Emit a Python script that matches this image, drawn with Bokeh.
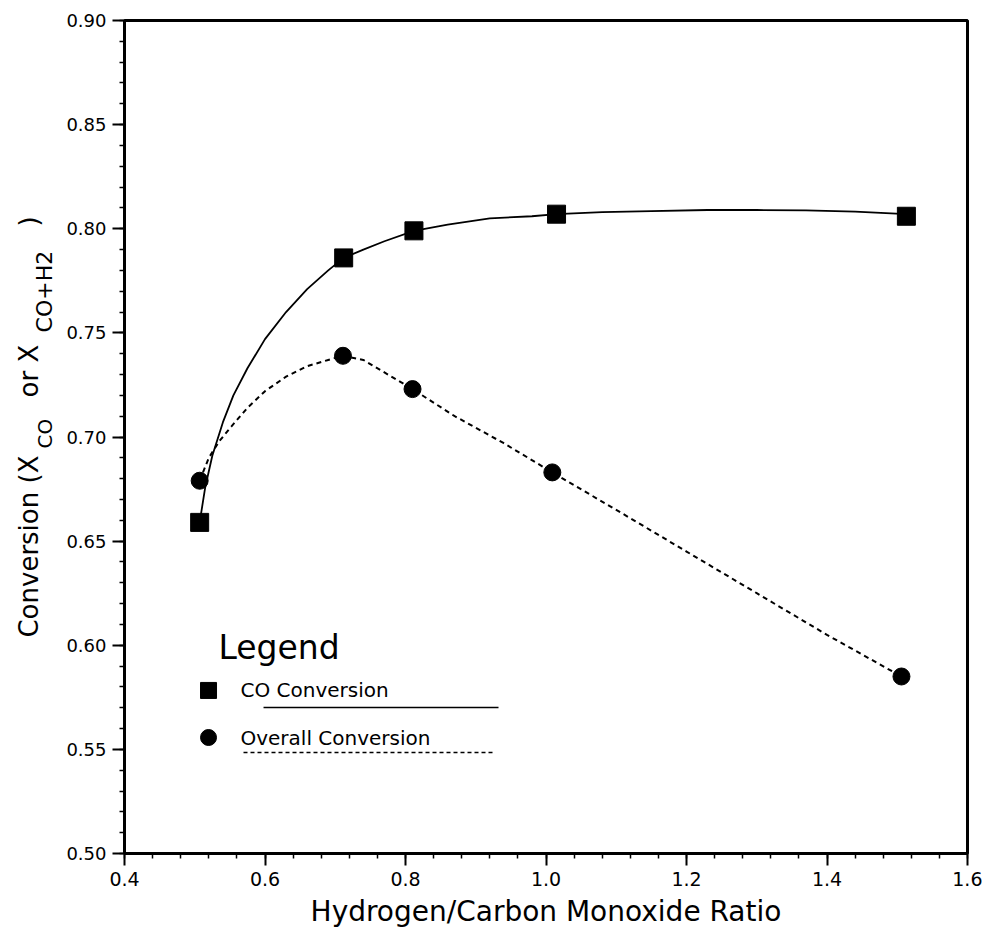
import math
from bokeh.plotting import figure
from bokeh.layouts import row
from bokeh.models import Label, Range1d, SingleIntervalTicker, PrintfTickFormatter
from bokeh.core.properties import value
from bokeh.embed import file_html
from bokeh.resources import INLINE

# Measured points: H2/CO ratio vs conversion
co_x = [0.507, 0.712, 0.812, 1.015, 1.513]
co_y = [0.659, 0.786, 0.799, 0.807, 0.806]
overall_x = [0.507, 0.711, 0.810, 1.009, 1.506]
overall_y = [0.679, 0.739, 0.723, 0.683, 0.585]

# Hand-drawn fitted curves through the points
co_curve_x = [0.507, 0.515, 0.525, 0.540, 0.555, 0.575, 0.600, 0.630, 0.660, 0.690,
              0.712, 0.740, 0.770, 0.812, 0.860, 0.920, 0.980, 1.015, 1.080, 1.150,
              1.230, 1.300, 1.370, 1.440, 1.513]
co_curve_y = [0.659, 0.676, 0.691, 0.707, 0.720, 0.733, 0.747, 0.760, 0.771, 0.780,
              0.786, 0.790, 0.794, 0.799, 0.802, 0.805, 0.806, 0.807, 0.808, 0.8085,
              0.809, 0.809, 0.8088, 0.8082, 0.807]
overall_curve_x = [0.507, 0.520, 0.535, 0.552, 0.575, 0.600, 0.630, 0.660, 0.690, 0.711,
                   0.740, 0.770, 0.810, 0.870, 0.940, 1.009, 1.100, 1.200, 1.300, 1.400,
                   1.506]
overall_curve_y = [0.679, 0.690, 0.698, 0.705, 0.714, 0.722, 0.729, 0.734, 0.737, 0.739,
                   0.737, 0.731, 0.723, 0.710, 0.697, 0.683, 0.665, 0.645, 0.625, 0.605,
                   0.585]

x_title = "Hydrogen/Carbon Monoxide Ratio"
legend_title = "Legend"
series_names = ["CO Conversion", "Overall Conversion"]

FONT = "DejaVu Sans"
LABEL_STRIP = 60          # width of the strip that carries the vertical title
TOTAL_W, TOTAL_H = 982, 941
TOP, BOTTOM = 20, 88

p = figure(width=TOTAL_W - LABEL_STRIP, height=TOTAL_H,
           x_range=Range1d(0.4, 1.6), y_range=Range1d(0.5, 0.9),
           output_backend="svg", toolbar_location=None,
           min_border_left=124 - LABEL_STRIP, min_border_right=15,
           min_border_top=TOP, min_border_bottom=BOTTOM)

p.background_fill_color = "white"
p.border_fill_color = "white"
p.outline_line_color = "black"
p.outline_line_width = 3
p.xgrid.visible = False
p.ygrid.visible = False

p.xaxis.ticker = SingleIntervalTicker(interval=0.2, num_minor_ticks=5)
p.yaxis.ticker = SingleIntervalTicker(interval=0.05, num_minor_ticks=5)
p.xaxis.formatter = PrintfTickFormatter(format="%.1f")
p.yaxis.formatter = PrintfTickFormatter(format="%.2f")

for ax in (p.xaxis, p.yaxis):
    ax.axis_line_color = "black"
    ax.axis_line_width = 3
    ax.major_tick_line_color = "black"
    ax.major_tick_line_width = 2
    ax.minor_tick_line_color = "black"
    ax.minor_tick_line_width = 1.5
    ax.major_tick_out = 12
    ax.major_tick_in = 0
    ax.minor_tick_out = 5
    ax.minor_tick_in = 0
    ax.major_label_text_font = FONT
    ax.major_label_text_color = "black"
    ax.major_label_standoff = 6

p.xaxis.major_label_text_font_size = "19px"
p.yaxis.major_label_text_font_size = "18px"

p.xaxis.axis_label = x_title
p.xaxis.axis_label_text_font = FONT
p.xaxis.axis_label_text_font_size = "28px"
p.xaxis.axis_label_text_font_style = "normal"
p.xaxis.axis_label_text_color = "black"
p.xaxis.axis_label_standoff = 6

# Curves and markers
p.line(co_curve_x, co_curve_y, line_color="black", line_width=1.8)
p.line(overall_curve_x, overall_curve_y, line_color="black", line_width=2,
       line_dash="5 4")
p.scatter(co_x, co_y, marker="square", size=18, fill_color="black", line_color="black")
p.scatter(overall_x, overall_y, marker="circle", size=17, fill_color="black",
          line_color="black")

# In-plot legend block
p.add_layout(Label(x=0.5338, y=0.5989, text=legend_title, text_font=FONT,
                   text_font_size="33px", text_color="black",
                   text_align="left", text_baseline="alphabetic"))
p.scatter([0.5196], [0.5783], marker="square", size=16, fill_color="black",
          line_color="black")
p.add_layout(Label(x=0.5651, y=0.5783, text=series_names[0], text_font=FONT,
                   text_font_size="20px", text_color="black",
                   text_align="left", text_baseline="middle"))
p.line([0.5979, 0.9324], [0.5701, 0.5701], line_color="black", line_width=1.5)
p.scatter([0.5196], [0.5557], marker="circle", size=16, fill_color="black",
          line_color="black")
p.add_layout(Label(x=0.5651, y=0.5557, text=series_names[1], text_font=FONT,
                   text_font_size="20px", text_color="black",
                   text_align="left", text_baseline="middle"))
p.line([0.5694, 0.9253], [0.5485, 0.5485], line_color="black", line_width=1.5,
       line_dash="4 3")

# Strip on the left holding the vertical axis title (with subscripts)
lab = figure(width=LABEL_STRIP, height=TOTAL_H,
             x_range=Range1d(0, LABEL_STRIP), y_range=Range1d(0.5, 0.9),
             output_backend="svg", toolbar_location=None,
             x_axis_type=None, y_axis_type=None,
             min_border_left=0, min_border_right=0,
             min_border_top=TOP, min_border_bottom=BOTTOM)
lab.outline_line_color = None
lab.xgrid.visible = False
lab.ygrid.visible = False
lab.background_fill_color = "white"
lab.border_fill_color = "white"

ylabel_parts = [
    (28, 0.6037, "Conversion (X", "26px"),
    (44, 0.6945, "CO", "20px"),
    (28, 0.7190, "or X", "26px"),
    (44, 0.7502, "CO+H2", "22px"),
    (28, 0.8011, ")", "26px"),
]
for lx, ly, txt, fs in ylabel_parts:
    lab.add_layout(Label(x=lx, y=ly, text=txt, angle=math.pi / 2, angle_units="rad",
                         text_font=FONT, text_font_size=fs, text_color="black",
                         text_align="left", text_baseline="middle"))

layout = row(lab, p, spacing=0)
open("out.html", "w").write(file_html(layout, INLINE))
